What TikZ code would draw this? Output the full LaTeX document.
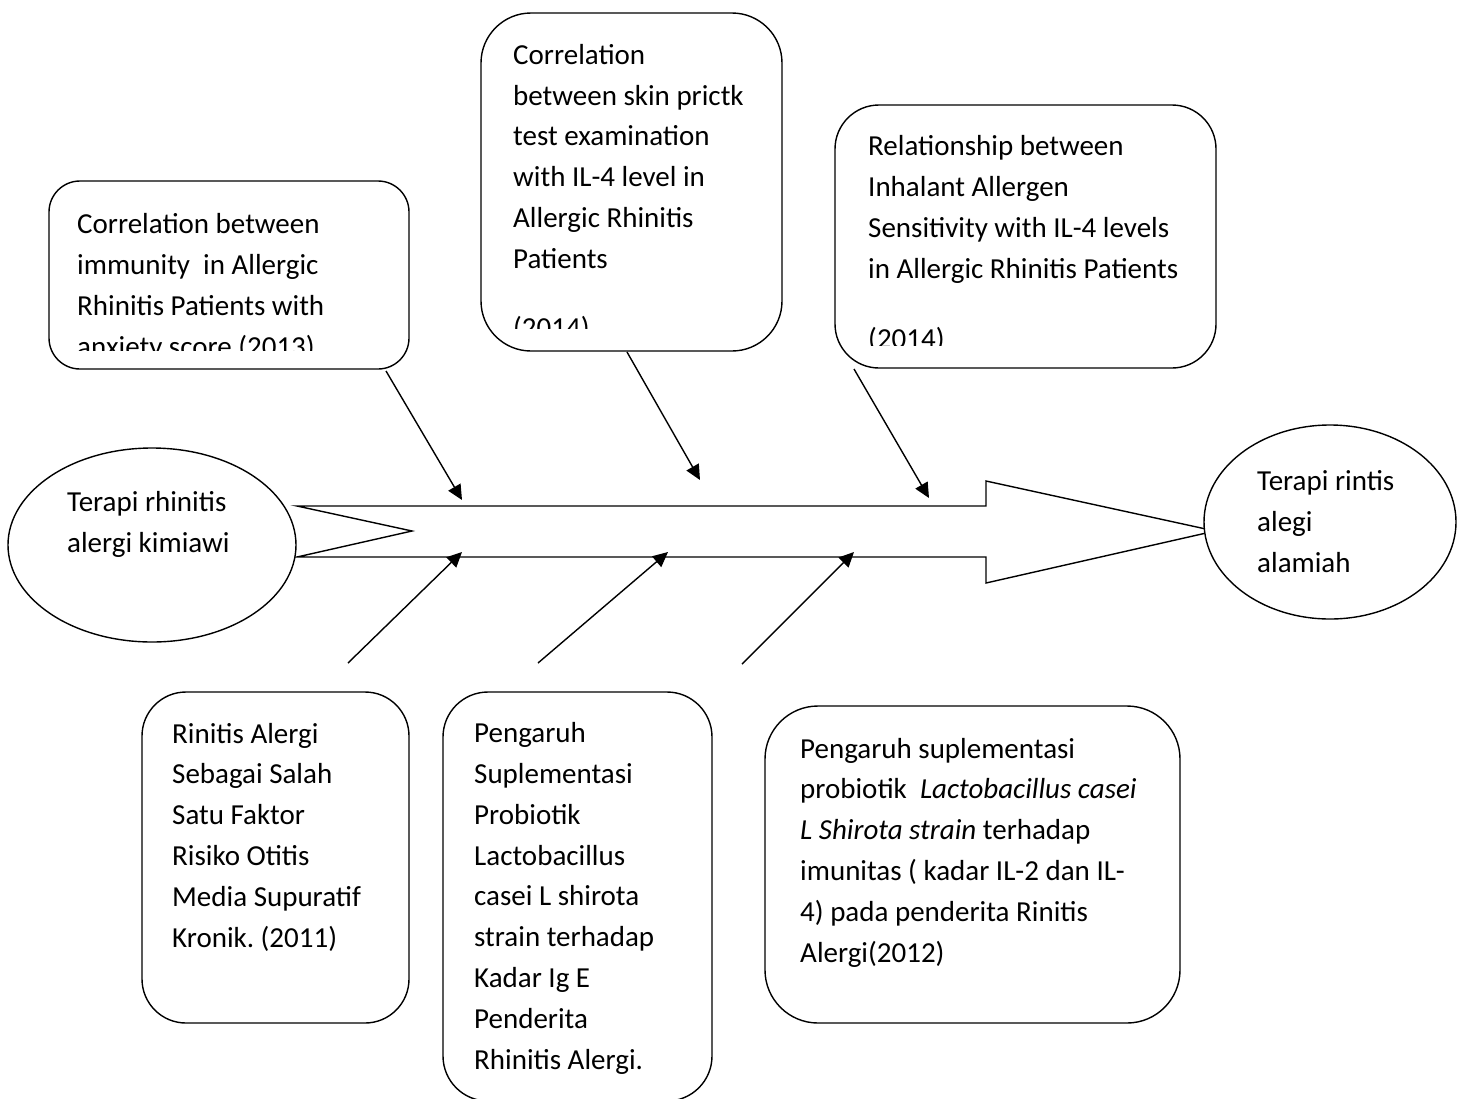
\documentclass[tikz,border=0pt]{standalone}
\usepackage{fontspec}
\setmainfont{Carlito}
\usetikzlibrary{arrows.meta,shapes.geometric}
\frenchspacing
\newcommand{\fishfont}{\fontsize{29pt}{40.8pt}\selectfont}
\tikzset{
  box/.style={draw, line width=1.4pt, fill=white, inner sep=0pt},
  oval/.style={draw, ellipse, line width=1.4pt, fill=white, inner sep=0pt},
  txt/.style={anchor=base west, align=left, inner sep=0pt, font=\fishfont},
  bone/.style={line width=1.4pt, -{Triangle[length=15pt,width=14pt]}}
}
\begin{document}
\begin{tikzpicture}[x=1pt,y=-1pt]
\useasboundingbox (0,0) rectangle (1463,1098);
\fill[white] (0,0) rectangle (1463,1098);

% spine
\draw[line width=1.4pt] (297,506) -- (986,506) -- (986,481) -- (1215,531) -- (986,583)
  -- (986,557) -- (297,557) -- (412,531) -- cycle;

% tail and head (txt is anchored at the last line)
\node[oval, minimum width=288pt, minimum height=194pt] (tail) at (152,545) {};
\node[oval, minimum width=252pt, minimum height=194pt] (head) at (1330,522) {};
\node[txt] (tailtxt) at (67,552) {Terapi rhinitis\\alergi kimiawi};
\node[txt] (headtxt) at (1257,572) {Terapi rintis\\alegi\\alamiah};

% boxes
\node[box, rounded corners=31pt, minimum width=360pt, minimum height=188pt] (b1) at (229,275) {};
\node[box, rounded corners=50pt, minimum width=301pt, minimum height=338pt] (b2) at (631.5,182) {};
\node[box, rounded corners=44pt, minimum width=381pt, minimum height=263pt] (b3) at (1025.5,236.5) {};
\node[box, rounded corners=44pt, minimum width=267pt, minimum height=331pt] (b4) at (275.5,857.5) {};
\node[box, rounded corners=45pt, minimum width=269pt, minimum height=409pt] (b5) at (577.5,896.5) {};
\node[box, rounded corners=53pt, minimum width=415pt, minimum height=317pt] (b6) at (972.5,864.5) {};

\begin{scope}
\clip (b1.north west) rectangle ([yshift=19pt]b1.south east);
\node[txt] (t1) at (77,356) {Correlation between\\immunity\ \ in Allergic\\Rhinitis Patients with\\anxiety score (2013)};
\end{scope}
\begin{scope}
\clip (b2.north west) rectangle ([yshift=23pt]b2.south east);
\node[txt] (t2) at (513,337) {Correlation\\between skin prictk\\test examination\\with IL-4 level in\\Allergic Rhinitis\\Patients\\[28pt](2014)};
\end{scope}
\begin{scope}
\clip (b3.north west) rectangle ([yshift=23pt]b3.south east);
\node[txt] (t3) at (868,348) {Relationship between\\Inhalant Allergen\\Sensitivity with IL-4 levels\\in Allergic Rhinitis Patients\\[29pt](2014)};
\end{scope}
\node[txt] (t4) at (172,947) {Rinitis Alergi\\Sebagai Salah\\Satu Faktor\\Risiko Otitis\\Media Supuratif\\Kronik. (2011)};
\node[txt] (t5) at (474,1069) {Pengaruh\\Suplementasi\\Probiotik\\Lactobacillus\\casei L shirota\\strain terhadap\\Kadar Ig E\\Penderita\\Rhinitis Alergi.};
\node[txt] (t6) at (800,962) {Pengaruh suplementasi\\probiotik\ \ \textit{Lactobacillus casei}\\\textit{L Shirota strain} terhadap\\imunitas ( kadar IL-2 dan IL-\\4) pada penderita Rinitis\\Alergi(2012)};

% bones
\coordinate (a1) at (386,371);  \coordinate (p1) at (462,500);
\coordinate (a2) at (627,352);  \coordinate (p2) at (700,480);
\coordinate (a3) at (854,369);  \coordinate (p3) at (929,498);
\coordinate (c1) at (348,663);  \coordinate (q1) at (462,552);
\coordinate (c2) at (538,663);  \coordinate (q2) at (668,552);
\coordinate (c3) at (742,664);  \coordinate (q3) at (854,552);
\draw[bone] (a1) -- (p1);
\draw[bone] (a2) -- (p2);
\draw[bone] (a3) -- (p3);
\draw[bone] (c1) -- (q1);
\draw[bone] (c2) -- (q2);
\draw[bone] (c3) -- (q3);
\end{tikzpicture}
\end{document}
